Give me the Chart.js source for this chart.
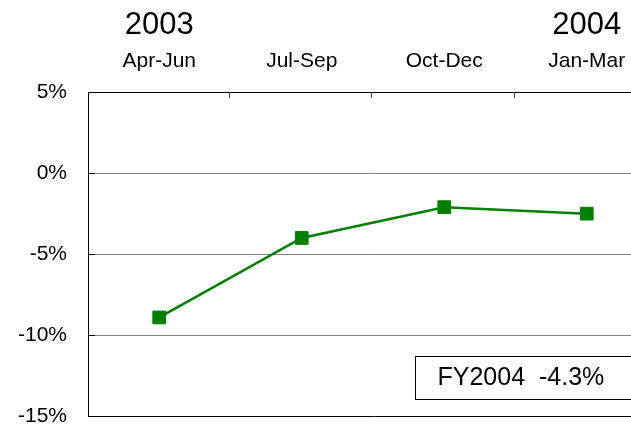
<!DOCTYPE html>
<html>
<head>
<meta charset="utf-8">
<script src="https://cdn.jsdelivr.net/npm/chart.js@4"></script>
<style>
  html, body { margin: 0; padding: 0; background: #fff; overflow: hidden; }
</style>
</head>
<body>
<canvas id="myChart" width="680" height="450"></canvas>
<script>
const quarters = ["Apr-Jun", "Jul-Sep", "Oct-Dec", "Jan-Mar"];
const years = ["2003", "", "", "2004"];
const growth = [-8.9, -4.0, -2.1, -2.5];
const yTicks = [5, 0, -5, -10, -15];
const fyLabel = "FY2004";
const fyGrowth = -4.3;

const FONT = "'Liberation Sans', Arial, sans-serif";

/* years over the quarters, inner tick marks, FY box */
const extras = {
  id: "extras",
  afterDraw(c) {
    const ctx = c.ctx;
    const x = c.scales.x;
    const y = c.scales.y;
    const a = c.chartArea;
    ctx.save();

    // years
    ctx.fillStyle = "#000";
    ctx.font = "31px " + FONT;
    ctx.textAlign = "center";
    ctx.textBaseline = "middle";
    years.forEach((t, i) => {
      if (t) ctx.fillText(t, x.getPixelForValue(i), 25);
    });

    // category boundary ticks (pointing down into the plot)
    ctx.strokeStyle = "#444";
    ctx.lineWidth = 1;
    for (let i = 0; i < quarters.length - 1; i++) {
      const px = Math.round((x.getPixelForValue(i) + x.getPixelForValue(i + 1)) / 2) - 1.5;
      ctx.beginPath();
      ctx.moveTo(px, a.top);
      ctx.lineTo(px, a.top + 6);
      ctx.stroke();
    }

    // y ticks pointing right
    ctx.strokeStyle = "#000";
    yTicks.forEach(v => {
      const py = Math.round(y.getPixelForValue(v)) + 0.5;
      ctx.beginPath();
      ctx.moveTo(a.left, py);
      ctx.lineTo(a.left + 7, py);
      ctx.stroke();
    });

    // FY box
    const bx = a.left + 327.5;
    const by = Math.round(y.getPixelForValue(-11.3)) + 0.5;
    ctx.strokeStyle = "#000";
    ctx.strokeRect(bx, by, 280, 43);
    ctx.font = "25px " + FONT;
    ctx.textAlign = "left";
    ctx.textBaseline = "middle";
    ctx.fillText(fyLabel + "  " + fyGrowth.toFixed(1) + "%", bx + 22, by + 22);

    ctx.restore();
  }
};

const ctx = document.getElementById("myChart").getContext("2d");

new Chart(ctx, {
  type: "line",
  data: {
    labels: quarters,
    datasets: [{
      data: growth,
      borderColor: "#008000",
      backgroundColor: "#008000",
      borderWidth: 2.5,
      pointStyle: "rect",
      pointRadius: 9,
      pointBorderWidth: 1,
      pointBorderColor: "#008000",
      pointBackgroundColor: "#008000",
      tension: 0
    }]
  },
  options: {
    responsive: false,
    animation: false,
    devicePixelRatio: 1,
    layout: { padding: { right: 22, bottom: 12, top: 0, left: 0 } },
    plugins: {
      legend: { display: false },
      tooltip: { enabled: false }
    },
    scales: {
      x: {
        type: "category",
        position: "top",
        offset: true,
        afterFit(s) { s.height = 92; },
        grid: { drawOnChartArea: false, drawTicks: false },
        border: { color: "#000", width: 1 },
        ticks: {
          color: "#000",
          font: { size: 21, family: FONT },
          padding: 18,
          maxRotation: 0
        }
      },
      y: {
        min: -15,
        max: 5,
        afterFit(s) { s.width = 88; },
        afterBuildTicks(s) { s.ticks = yTicks.map(v => ({ value: v })); },
        grid: {
          drawTicks: false,
          lineWidth: 1,
          color: c => (c.tick && (c.tick.value === -15 || c.tick.value === 5)) ? "#000" : "#808080"
        },
        border: { color: "#000", width: 1 },
        ticks: {
          color: "#000",
          font: { size: 21, family: FONT },
          padding: 21,
          callback: v => v + "%"
        }
      }
    }
  },
  plugins: [extras]
});
</script>
</body>
</html>
